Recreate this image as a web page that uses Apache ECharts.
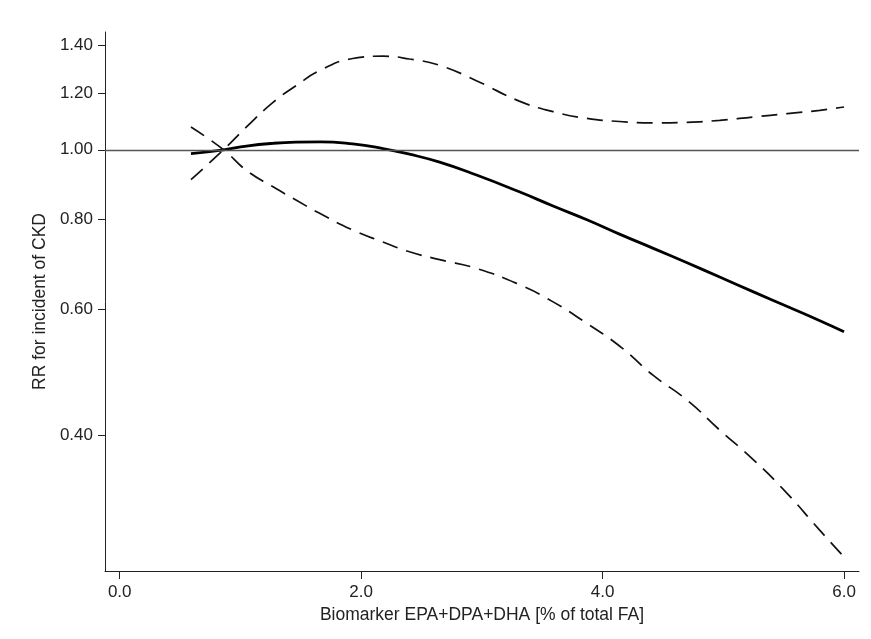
<!DOCTYPE html>
<html>
<head>
<meta charset="utf-8">
<title>RR for incident of CKD</title>
<script src="https://cdn.jsdelivr.net/npm/echarts@6/dist/echarts.min.js"></script>
<style>
  html, body { margin: 0; padding: 0; background: #fff; }
  #chart { width: 871px; height: 639px; }
</style>
</head>
<body>
<div id="chart"></div>
<script>
// biomarker level (% of total FA)
var xPoint = [0.59, 0.86, 1.05, 1.27, 1.46, 1.66, 1.93, 2.18, 2.40, 2.65, 2.95, 3.31, 3.59, 3.87, 4.14, 4.42, 4.70, 4.97, 5.25, 5.53, 5.80, 6.00];

// relative risk and confidence bounds, read at xPoint
var rrMain  = [0.988, 1.000, 1.012, 1.021, 1.025, 1.026, 1.019, 1.004, 0.986, 0.961, 0.923, 0.874, 0.835, 0.799, 0.763, 0.729, 0.696, 0.665, 0.634, 0.605, 0.578, 0.558];
var rrLower = [1.076, 1.000, 0.936, 0.888, 0.851, 0.815, 0.773, 0.744, 0.721, 0.703, 0.684, 0.649, 0.614, 0.573, 0.533, 0.485, 0.448, 0.407, 0.370, 0.332, 0.295, 0.271];
var rrUpper = [0.909, 1.000, 1.076, 1.164, 1.228, 1.290, 1.340, 1.350, 1.338, 1.311, 1.249, 1.169, 1.130, 1.106, 1.095, 1.090, 1.092, 1.099, 1.111, 1.123, 1.135, 1.147];

var yTicks = [0.4, 0.6, 0.8, 1.0, 1.2, 1.4];
var xTicks = [0, 2, 4, 6];

function pairs(ys) {
    return xPoint.map(function (x, i) { return [x, ys[i]]; });
}

var chart = echarts.init(document.getElementById('chart'));
var font = 'Liberation Sans, Arial, sans-serif';

var option = {
    animation: false,
    grid: { left: 105, right: 12, top: 32, bottom: 68 },
    xAxis: {
        type: 'value',
        min: -0.122,
        max: 6.124,
        name: 'Biomarker EPA+DPA+DHA [% of total FA]',
        nameLocation: 'middle',
        nameGap: 32,
        nameTextStyle: { color: '#222', fontSize: 17.5, fontFamily: font },
        splitLine: { show: false },
        axisLine: { onZero: false, lineStyle: { color: '#222', width: 1 } },
        axisTick: { customValues: xTicks, length: 8, lineStyle: { color: '#222' } },
        axisLabel: {
            customValues: xTicks,
            color: '#222', fontSize: 17, fontFamily: font, margin: 13,
            formatter: function (v) { return v.toFixed(1); }
        }
    },
    yAxis: {
        type: 'log',
        logBase: Math.E,
        min: 0.259,
        max: 1.459,
        name: 'RR for incident of CKD',
        nameLocation: 'middle',
        nameGap: 54,
        nameTextStyle: { color: '#222', fontSize: 17.5, fontFamily: font },
        splitLine: { show: false },
        axisLine: { show: true, onZero: false, lineStyle: { color: '#222', width: 1 } },
        axisTick: { show: true, customValues: yTicks, length: 7, lineStyle: { color: '#222' } },
        axisLabel: {
            customValues: yTicks,
            color: '#222', fontSize: 17, fontFamily: font, margin: 12,
            formatter: function (v) { return Number(v).toFixed(2); }
        }
    },
    series: [
        {
            name: 'RR',
            type: 'line',
            smooth: 0.5,
            symbol: 'none',
            data: pairs(rrMain),
            lineStyle: { color: '#000', width: 2.8 },
            z: 3,
            markLine: {
                silent: true,
                symbol: 'none',
                label: { show: false },
                lineStyle: { color: '#555', width: 1.3, type: 'solid' },
                data: [{ yAxis: 1 }]
            }
        },
        {
            name: 'lower',
            type: 'line',
            smooth: 0.5,
            symbol: 'none',
            data: pairs(rrLower),
            lineStyle: { color: '#111', width: 1.7, type: [16, 9] }
        },
        {
            name: 'upper',
            type: 'line',
            smooth: 0.5,
            symbol: 'none',
            data: pairs(rrUpper),
            lineStyle: { color: '#111', width: 1.7, type: [16, 9] }
        }
    ]
};

chart.setOption(option);
</script>
</body>
</html>
